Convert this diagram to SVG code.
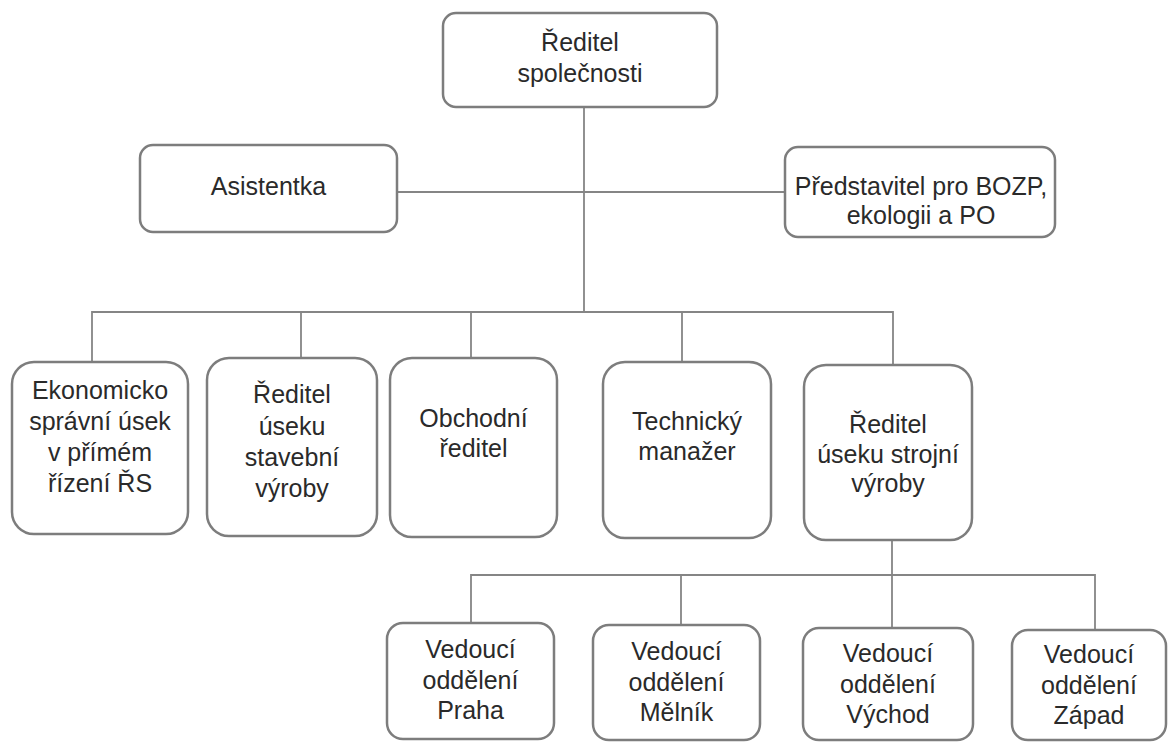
<svg xmlns="http://www.w3.org/2000/svg" width="1169" height="742" viewBox="0 0 1169 742">
<style>
.box{fill:#fff;stroke:#7d7d7d;stroke-width:2.5}
.ln{fill:none;stroke:#858585;stroke-width:1.8}
text{font-family:"Liberation Sans",Arial,Helvetica,sans-serif;font-size:25px;fill:#2a2a2a;text-anchor:middle}
</style>
<rect width="1169" height="742" fill="#fff"/>
<g id="connectors">
<path class="ln" d="M584 107V312M397 192H785M92 362V312H893V365M301 312V358M471 312V358M682 312V362"/>
<path class="ln" d="M892 540V575M471 623V575H1095V630M681 575V625M892 575V628"/>
</g>
<g id="n-reditel-spolecnosti">
<rect class="box" x="443" y="13" width="274" height="94" rx="13"/>
<text x="580" y="51">Ředitel</text>
<text x="580" y="82">společnosti</text>
</g>
<g id="n-asistentka">
<rect class="box" x="140" y="145" width="257" height="87" rx="13"/>
<text x="268.5" y="195">Asistentka</text>
</g>
<g id="n-predstavitel">
<rect class="box" x="785" y="147" width="270" height="90" rx="13"/>
<text x="921" y="195">Představitel pro BOZP,</text>
<text x="921" y="224">ekologii a PO</text>
</g>
<g id="n-ekonomicko">
<rect class="box" x="12" y="362" width="176" height="172" rx="22"/>
<text x="100" y="399">Ekonomicko</text>
<text x="100" y="430">správní úsek</text>
<text x="100" y="461">v přímém</text>
<text x="100" y="492">řízení ŘS</text>
</g>
<g id="n-stavebni">
<rect class="box" x="207" y="358" width="170" height="178" rx="22"/>
<text x="292" y="403">Ředitel</text>
<text x="292" y="435">úseku</text>
<text x="292" y="466">stavební</text>
<text x="292" y="497">výroby</text>
</g>
<g id="n-obchodni">
<rect class="box" x="390" y="358" width="167" height="179" rx="22"/>
<text x="473.5" y="427">Obchodní</text>
<text x="473.5" y="457">ředitel</text>
</g>
<g id="n-technicky">
<rect class="box" x="603" y="362" width="168" height="176" rx="22"/>
<text x="687" y="430">Technický</text>
<text x="687" y="460">manažer</text>
</g>
<g id="n-strojni">
<rect class="box" x="804" y="365" width="168" height="175" rx="22"/>
<text x="888" y="433">Ředitel</text>
<text x="888" y="463">úseku strojní</text>
<text x="888" y="492">výroby</text>
</g>
<g id="n-praha">
<rect class="box" x="387" y="623" width="167" height="116" rx="16"/>
<text x="470.5" y="658">Vedoucí</text>
<text x="470.5" y="689">oddělení</text>
<text x="470.5" y="719">Praha</text>
</g>
<g id="n-melnik">
<rect class="box" x="593" y="625" width="167" height="115" rx="16"/>
<text x="676.5" y="660">Vedoucí</text>
<text x="676.5" y="691">oddělení</text>
<text x="676.5" y="721">Mělník</text>
</g>
<g id="n-vychod">
<rect class="box" x="803" y="628" width="170" height="112" rx="16"/>
<text x="888" y="662">Vedoucí</text>
<text x="888" y="693">oddělení</text>
<text x="888" y="723">Východ</text>
</g>
<g id="n-zapad">
<rect class="box" x="1012" y="630" width="154" height="110" rx="16"/>
<text x="1089" y="663">Vedoucí</text>
<text x="1089" y="694">oddělení</text>
<text x="1089" y="724">Západ</text>
</g>
</svg>
